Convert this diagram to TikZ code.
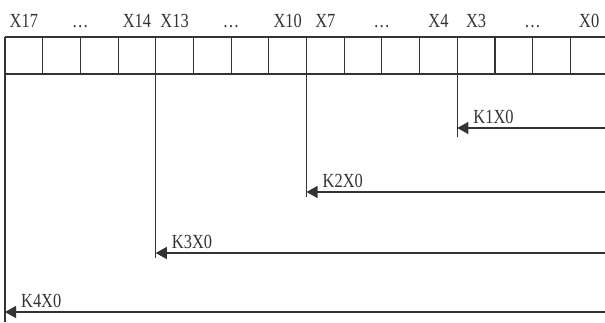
\documentclass[tikz,border=0pt]{standalone}
\usepackage{fontspec}
\setmainfont{Liberation Serif}[FakeStretch=0.82]
\usetikzlibrary{arrows.meta}
\begin{document}
\begin{tikzpicture}[x=1pt,y=-1pt,
  ln/.style={draw=black!80,line width=1.1pt},
  lbl/.style={inner sep=0pt,text=black!80,font=\fontsize{20}{20}\selectfont},
  arr/.style={ln,-{Triangle[length=11pt,width=12pt]}}]
\useasboundingbox (0,0) rectangle (605,322);
\def\p{37.69}
% grid
\draw[ln] (5,37) -- (620,37);
\draw[ln] (5,74) -- (620,74);
\foreach \i in {0,...,16} \draw[ln] ({5+\i*\p},37) -- ({5+\i*\p},74);
% header labels
\foreach \i/\t/\n in {0/X17/h17,3/X14/h14,4/X13/h13,7/X10/h10,8/X7/h7,11/X4/h4,12/X3/h3,15/X0/h0}
  \node[lbl,anchor=base] (\n) at ({5+(\i+0.5)*\p},27) {\t};
\foreach \i/\n in {2/d1,6/d2,10/d3,14/d4}
  \node[lbl,anchor=base] (\n) at ({5+\i*\p},27) {…};
% vertical leaders
\coordinate (v0t) at (5,74);      \coordinate (v0b) at (5,322);
\coordinate (v1t) at ({5+4*\p},74);  \coordinate (v1b) at ({5+4*\p},258);
\coordinate (v2t) at ({5+8*\p},74);  \coordinate (v2b) at ({5+8*\p},197);
\coordinate (v3t) at ({5+12*\p},74); \coordinate (v3b) at ({5+12*\p},137);
\draw[ln] (v0t) -- (v0b);
\draw[ln] (v1t) -- (v1b);
\draw[ln] (v2t) -- (v2b);
\draw[ln] (v3t) -- (v3b);
% arrows
\coordinate (r1) at (610,128); \coordinate (e1) at ({5+12*\p},128);
\coordinate (r2) at (610,192); \coordinate (e2) at ({5+8*\p},192);
\coordinate (r3) at (610,253); \coordinate (e3) at ({5+4*\p},253);
\coordinate (r4) at (610,312); \coordinate (e4) at (5,312);
\draw[arr] (r1) -- (e1);
\draw[arr] (r2) -- (e2);
\draw[arr] (r3) -- (e3);
\draw[arr] (r4) -- (e4);
\node[lbl,anchor=base west] (k1) at ([xshift=16pt,yshift=5pt]e1) {K1X0};
\node[lbl,anchor=base west] (k2) at ([xshift=16pt,yshift=5pt]e2) {K2X0};
\node[lbl,anchor=base west] (k3) at ([xshift=16pt,yshift=5pt]e3) {K3X0};
\node[lbl,anchor=base west] (k4) at ([xshift=16pt,yshift=5pt]e4) {K4X0};
\end{tikzpicture}
\end{document}
